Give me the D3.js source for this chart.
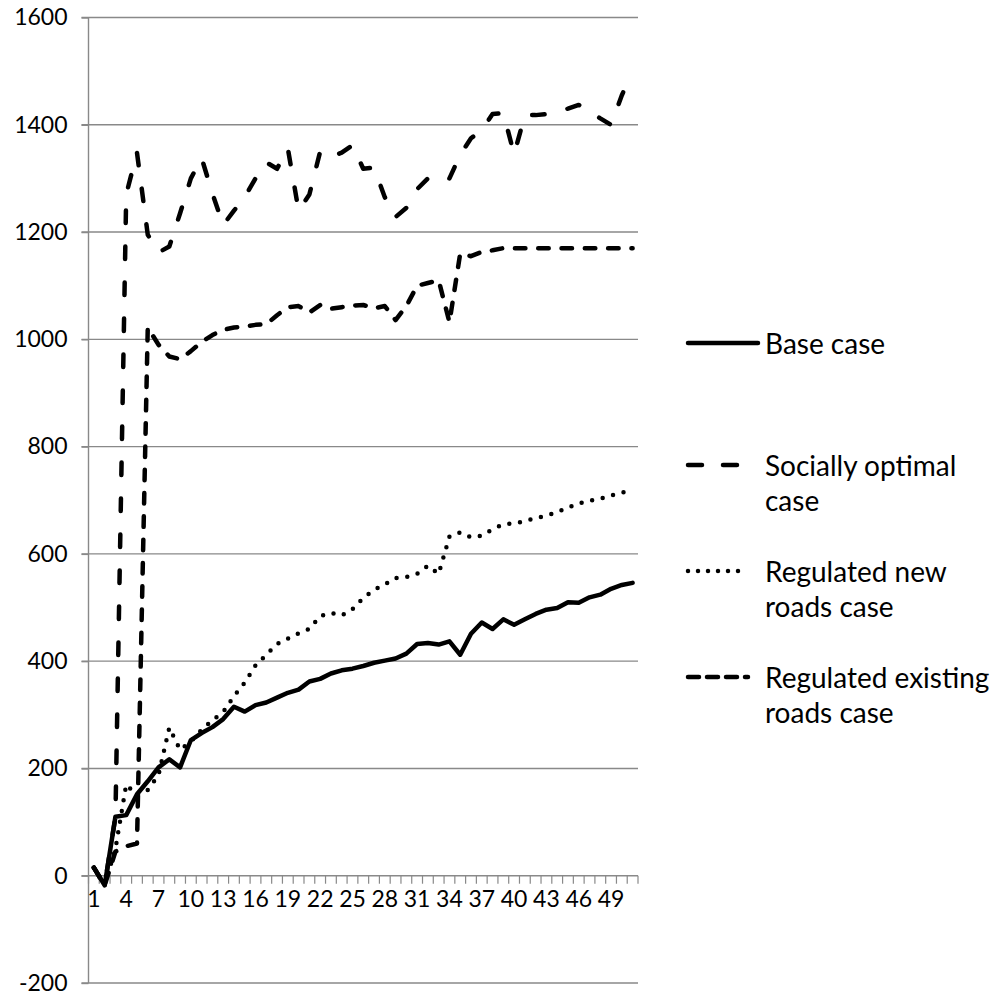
<!DOCTYPE html>
<html>
<head>
<meta charset="utf-8">
<script src="https://cdn.jsdelivr.net/npm/d3@7/dist/d3.min.js"></script>
<style>
  html, body { margin: 0; padding: 0; background: #fff; }
  svg { display: block; font-family: Lato, "Open Sans", sans-serif; }
</style>
</head>
<body>
<svg id="chart" width="1005" height="995"></svg>
<script>
// Periods 1..51
const categories = [1,2,3,4,5,6,7,8,9,10,11,12,13,14,15,16,17,18,19,20,
  21,22,23,24,25,26,27,28,29,30,31,32,33,34,35,36,37,38,39,40,
  41,42,43,44,45,46,47,48,49,50,51];

const baseCase = [15,-18,110,113,152,176,202,217,202,253,266,277,292,315,306,318,323,332,341,347,
  362,367,377,383,386,391,397,401,405,414,432,434,431,437,412,451,472,460,478,468,
  478,488,496,499,510,509,519,524,535,542,546];

const sociallyOptimal = [15,-18,110,1270,1348,1195,1162,1173,1235,1300,1338,1272,1213,1240,1265,1300,1330,1318,1356,1240,
  1270,1350,1340,1348,1362,1318,1320,1265,1228,1245,1280,1300,1306,1300,1344,1375,1390,1420,1422,1345,
  1418,1418,1420,1425,1430,1437,1425,1412,1400,1455,1500];

const regulatedNew = [15,-18,50,170,150,160,188,276,235,250,272,290,305,335,360,392,412,432,442,452,
  460,484,490,485,497,518,533,543,555,557,563,578,563,632,640,631,634,646,655,657,
  661,667,671,678,686,694,699,703,709,714,720];

const regulatedExisting = [15,-18,45,55,60,1022,990,968,963,978,995,1008,1018,1022,1024,1027,1028,1045,1060,1062,
  1050,1064,1057,1060,1063,1064,1058,1062,1036,1062,1100,1105,1110,1032,1160,1155,1163,1166,1170,1170,
  1170,1170,1170,1170,1170,1170,1170,1170,1170,1170,1170];

const yTicks = [-200,0,200,400,600,800,1000,1200,1400,1600];
const xTickLabels = [1,4,7,10,13,16,19,22,25,28,31,34,37,40,43,46,49];

const legendLines = [["Base case"], ["Socially optimal", "case"], ["Regulated new", "roads case"], ["Regulated existing", "roads case"]];

const series = [
  { values: baseCase,          dash: null,        legendDash: null },
  { values: sociallyOptimal,   dash: "12.5 23.5", legendDash: "14 21" },
  { values: regulatedNew,      dash: "0 10.8",    legendDash: "0 10" },
  { values: regulatedExisting, dash: "10.5 12.8", legendDash: "11 8" }
];

const svg = d3.select("#chart");
const plot = { left: 88.5, right: 638, top: 17.5, bottom: 983 };
const gridColor = "#898989";
const lineWidth = 4.5;
const font = "Lato, 'Open Sans', sans-serif";

const x = d3.scalePoint().domain(categories).range([plot.left, plot.right]).padding(0.5);
const y = d3.scaleLinear().domain([-200, 1600]).range([plot.bottom, plot.top]);
const step = x.step();

// horizontal gridlines
svg.append("g").selectAll("line").data(yTicks).join("line")
  .attr("x1", plot.left - 7).attr("x2", plot.right)
  .attr("y1", d => y(d)).attr("y2", d => y(d))
  .attr("stroke", gridColor).attr("stroke-width", 1.4);

// value axis
const yAxis = d3.axisLeft(y).tickValues(yTicks).tickSize(7).tickPadding(14)
  .tickFormat(d => String(d));
const yg = svg.append("g").attr("transform", `translate(${plot.left},0)`).call(yAxis);
yg.select(".domain").remove();
yg.selectAll(".tick line").attr("stroke", gridColor).attr("stroke-width", 1.4);
yg.selectAll(".tick text").attr("font-size", 23).attr("fill", "#000")
  .style("font-family", font);
svg.append("line")
  .attr("x1", plot.left).attr("x2", plot.left)
  .attr("y1", plot.top).attr("y2", plot.bottom)
  .attr("stroke", gridColor).attr("stroke-width", 1.4);

// category axis at zero, ticks between categories
const y0 = y(0);
const bounds = d3.range(categories.length + 1).map(i => plot.left + i * step);
svg.append("g").selectAll("line").data(bounds).join("line")
  .attr("x1", d => d).attr("x2", d => d)
  .attr("y1", y0).attr("y2", y0 + 8)
  .attr("stroke", gridColor).attr("stroke-width", 1.2);
svg.append("g").selectAll("text").data(xTickLabels).join("text")
  .attr("x", d => x(d)).attr("y", y0 + 22)
  .attr("text-anchor", "middle").attr("dominant-baseline", "central")
  .attr("font-size", 23).attr("fill", "#000")
  .text(d => d);

// series lines
const line = d3.line().x((d, i) => x(categories[i])).y(d => y(d));
svg.append("g").selectAll("path").data(series).join("path")
  .attr("d", s => line(s.values))
  .attr("fill", "none").attr("stroke", "#000")
  .attr("stroke-width", lineWidth)
  .attr("stroke-linejoin", "round")
  .attr("stroke-linecap", "round")
  .attr("stroke-dasharray", s => s.dash);

// legend
const legendY = [343, 465, 571, 677];
const sampleLen = [70, 60, 60, 60];
const lg = svg.append("g");
series.forEach((s, i) => {
  lg.append("line")
    .attr("x1", 688).attr("x2", 688 + sampleLen[i])
    .attr("y1", legendY[i]).attr("y2", legendY[i])
    .attr("stroke", "#000").attr("stroke-width", lineWidth)
    .attr("stroke-linecap", "round")
    .attr("stroke-dasharray", s.legendDash);
  legendLines[i].forEach((t, j) => {
    lg.append("text")
      .attr("x", 765).attr("y", legendY[i] + j * 35)
      .attr("dominant-baseline", "central")
      .attr("font-size", 28).attr("fill", "#000")
      .text(t);
  });
});
</script>
</body>
</html>
